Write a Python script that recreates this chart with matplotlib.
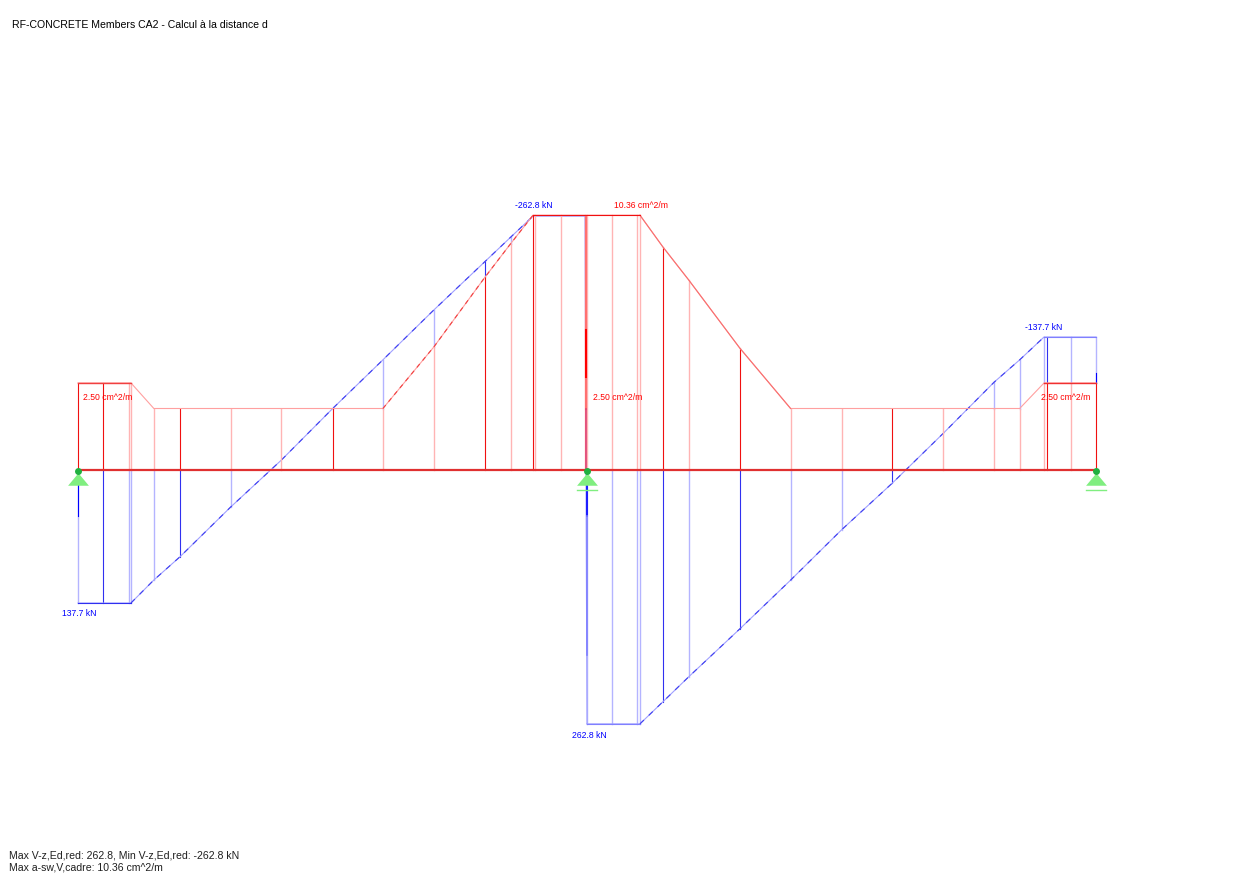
import matplotlib
matplotlib.use("Agg")
import matplotlib.pyplot as plt

# stations along the beam (m), two spans of 10 m
x_st = [0, 0.49, 1.0, 1.04, 1.49, 2, 3, 3.99, 5.01, 5.99, 6.99, 8, 8.5, 8.94, 8.98, 9.49, 9.96, 10,
        10.49, 10.98, 11.04, 11.49, 12, 13, 14, 15, 16, 17, 18, 18.5, 18.98, 19.04, 19.5, 20]
# shear force (kN), drawn positive downwards
shear = [137.7, 137.7, 137.7, 137.7, 113.9, 90, 38.3, -10, -64, -114, -165.6, -216, -241, -262.8, -262.8, -262.8, -262.8, 262.8,
         262.8, 262.8, 262.8, 240, 214, 164.6, 114, 62, 13.5, -38, -91, -114, -137.7, -137.7, -137.7, -137.7]
# required stirrups (cm^2/m)
asw = [3.54, 3.54, 3.54, 3.54, 2.5, 2.5, 2.5, 2.5, 2.5, 2.5, 5.0, 7.85, 9.2, 10.36, 10.36, 10.36, 10.36, 10.36,
       10.36, 10.36, 10.36, 9.07, 7.72, 4.96, 2.5, 2.5, 2.5, 2.5, 2.5, 2.5, 3.54, 3.54, 3.54, 3.54]
# stations whose verticals come out dark
dark_red = [0, 0.49, 2, 5.01, 8, 8.94, 11.49, 13, 16, 19.04, 20]
dark_blue = [0.49, 2, 8, 11.49, 13, 16, 19.04]
support_x = [0, 10, 20]

px_x = 50.9
px_v = 0.966
px_a = 24.6

fig = plt.figure(figsize=(12.5, 8.82), dpi=100)
ax = fig.add_axes([0, 0, 1, 1])
ax.set_xlim(-78 / px_x, (1250 - 78) / px_x)
ax.set_ylim(412 / px_v, -470 / px_v)
ax.axis("off")
ax2 = ax.twinx()
ax2.set_ylim(-412 / px_a, 470 / px_a)
ax2.axis("off")

blue = "#0000ff"
red = "#ff0000"
lw = 0.8

# shear
for x, v, a in zip(x_st, shear, asw):
    v0 = 0
    if v < 0:
        # upper part is hidden behind the red stirrup line
        v0 = -a * px_a / px_v
        if v >= v0:
            continue
    if x in dark_blue:
        ax.plot([x, x], [v0, v], color="#3030f0", lw=lw, zorder=2)
    else:
        ax.plot([x, x], [v0, v], color="#b4b4ff", lw=1.0, zorder=2)
for xs, vs in [(x_st[:18], shear[:18]), (x_st[17:], shear[17:])]:
    ax.plot(xs, vs, color="#a0a0ff", lw=lw, zorder=2)
ax.plot(x_st[3:14], shear[3:14], color="#4040f0", lw=lw, ls=(0, (5, 6)), zorder=2)
ax.plot(x_st[20:31], shear[20:31], color="#4040f0", lw=lw, ls=(0, (5, 6)), zorder=2)
ax.plot([0, 1.04], [137.7, 137.7], color="#3030f0", lw=lw, zorder=2)
ax.plot([10, 11.04], [262.8, 262.8], color="#8080ff", lw=lw, zorder=2)
ax.plot([18.98, 20], [-137.7, -137.7], color="#8080ff", lw=lw, zorder=2)
ax.plot([0, 0], [0, 48], color=blue, lw=lw, zorder=2)
ax.plot([10, 10], [0, 48], color=blue, lw=1.2, zorder=2)
ax.plot([10, 10], [48, 192], color="#8080ff", lw=1.2, zorder=2)
ax.plot([20, 20], [-100, -90], color=blue, lw=lw, zorder=2)

# stirrups
for x, a in zip(x_st, asw):
    if x in dark_red:
        ax2.plot([x, x], [0, a], color="#f01010", lw=lw, zorder=3)
    else:
        ax2.plot([x, x], [0, a], color="#ffb4b4", lw=1.0, zorder=3)
ax2.plot(x_st, asw, color="#ffa0a0", lw=lw, zorder=3)
ax2.plot(x_st[9:14], asw[9:14], color="#f04040", lw=lw, ls=(0, (4, 4)), zorder=3)
ax2.plot(x_st[20:25], asw[20:25], color="#f87070", lw=lw, zorder=3)
ax2.plot([0, 1.04], [3.54, 3.54], color="#f04040", lw=1, zorder=3)
ax2.plot([8.94, 11.04], [10.36, 10.36], color="#f01010", lw=lw, zorder=3)
ax2.plot([18.98, 20], [3.54, 3.54], color="#f03030", lw=1, zorder=3)
ax2.plot([9.98, 9.98], [2.5, 10.3], color="#ff7070", lw=1.5, zorder=3)
ax2.plot([9.98, 9.98], [3.8, 5.7], color=red, lw=1.5, zorder=3)
ax2.plot([9.98, 9.98], [0, 2.5], color="#e04070", lw=1.2, zorder=3)

# beam
ax2.plot([0, 20], [0, 0], color="#e03030", lw=1.6, zorder=4, solid_capstyle="butt")

# supports
tri = [(-1, -0.6), (1, -0.6), (0, 0.6)]
for x in support_x:
    ax2.plot([x], [-0.35], marker=tri, ms=15, color="#80ee80", mec="none", zorder=5)
    ax2.plot([x], [-0.05], marker="o", ms=5, color="#20b040", mec="none", zorder=6)
for x in support_x[1:]:
    ax2.plot([x - 0.2, x + 0.2], [-0.8, -0.8], color="#80ee80", lw=1, zorder=5)

fs = 6.2
font = "Liberation Sans"
ax.text(62 / px_x - 78 / px_x, (614 - 470) / px_v, "137.7 kN", color=blue, fontsize=fs, family=font, va="center")
ax.text(572 / px_x - 78 / px_x, (735 - 470) / px_v, "262.8 kN", color=blue, fontsize=fs, family=font, va="center")
ax.text(515 / px_x - 78 / px_x, (205 - 470) / px_v, "-262.8 kN", color=blue, fontsize=fs, family=font, va="center")
ax.text(1025 / px_x - 78 / px_x, (327 - 470) / px_v, "-137.7 kN", color=blue, fontsize=fs, family=font, va="center")
ax2.text(614 / px_x - 78 / px_x, (470 - 205) / px_a, "10.36 cm^2/m", color=red, fontsize=fs, family=font, va="center", zorder=7)
for px in [83, 593, 1041]:
    ax2.text((px - 78) / px_x, (470 - 398) / px_a, "2.50 cm^2/m", color=red, fontsize=fs, family=font, va="center", zorder=7)

fig.text(12 / 1250, 1 - 25 / 882, "RF-CONCRETE Members CA2 - Calcul à la distance d", fontsize=7.55, family=font, va="center", color="black")
fig.text(9 / 1250, 1 - 855 / 882, "Max V-z,Ed,red: 262.8, Min V-z,Ed,red: -262.8 kN", fontsize=7.55, family=font, va="center", color="#202020")
fig.text(9 / 1250, 1 - 867 / 882, "Max a-sw,V,cadre: 10.36 cm^2/m", fontsize=7.55, family=font, va="center", color="#202020")

fig.savefig("out.png", dpi=100)
